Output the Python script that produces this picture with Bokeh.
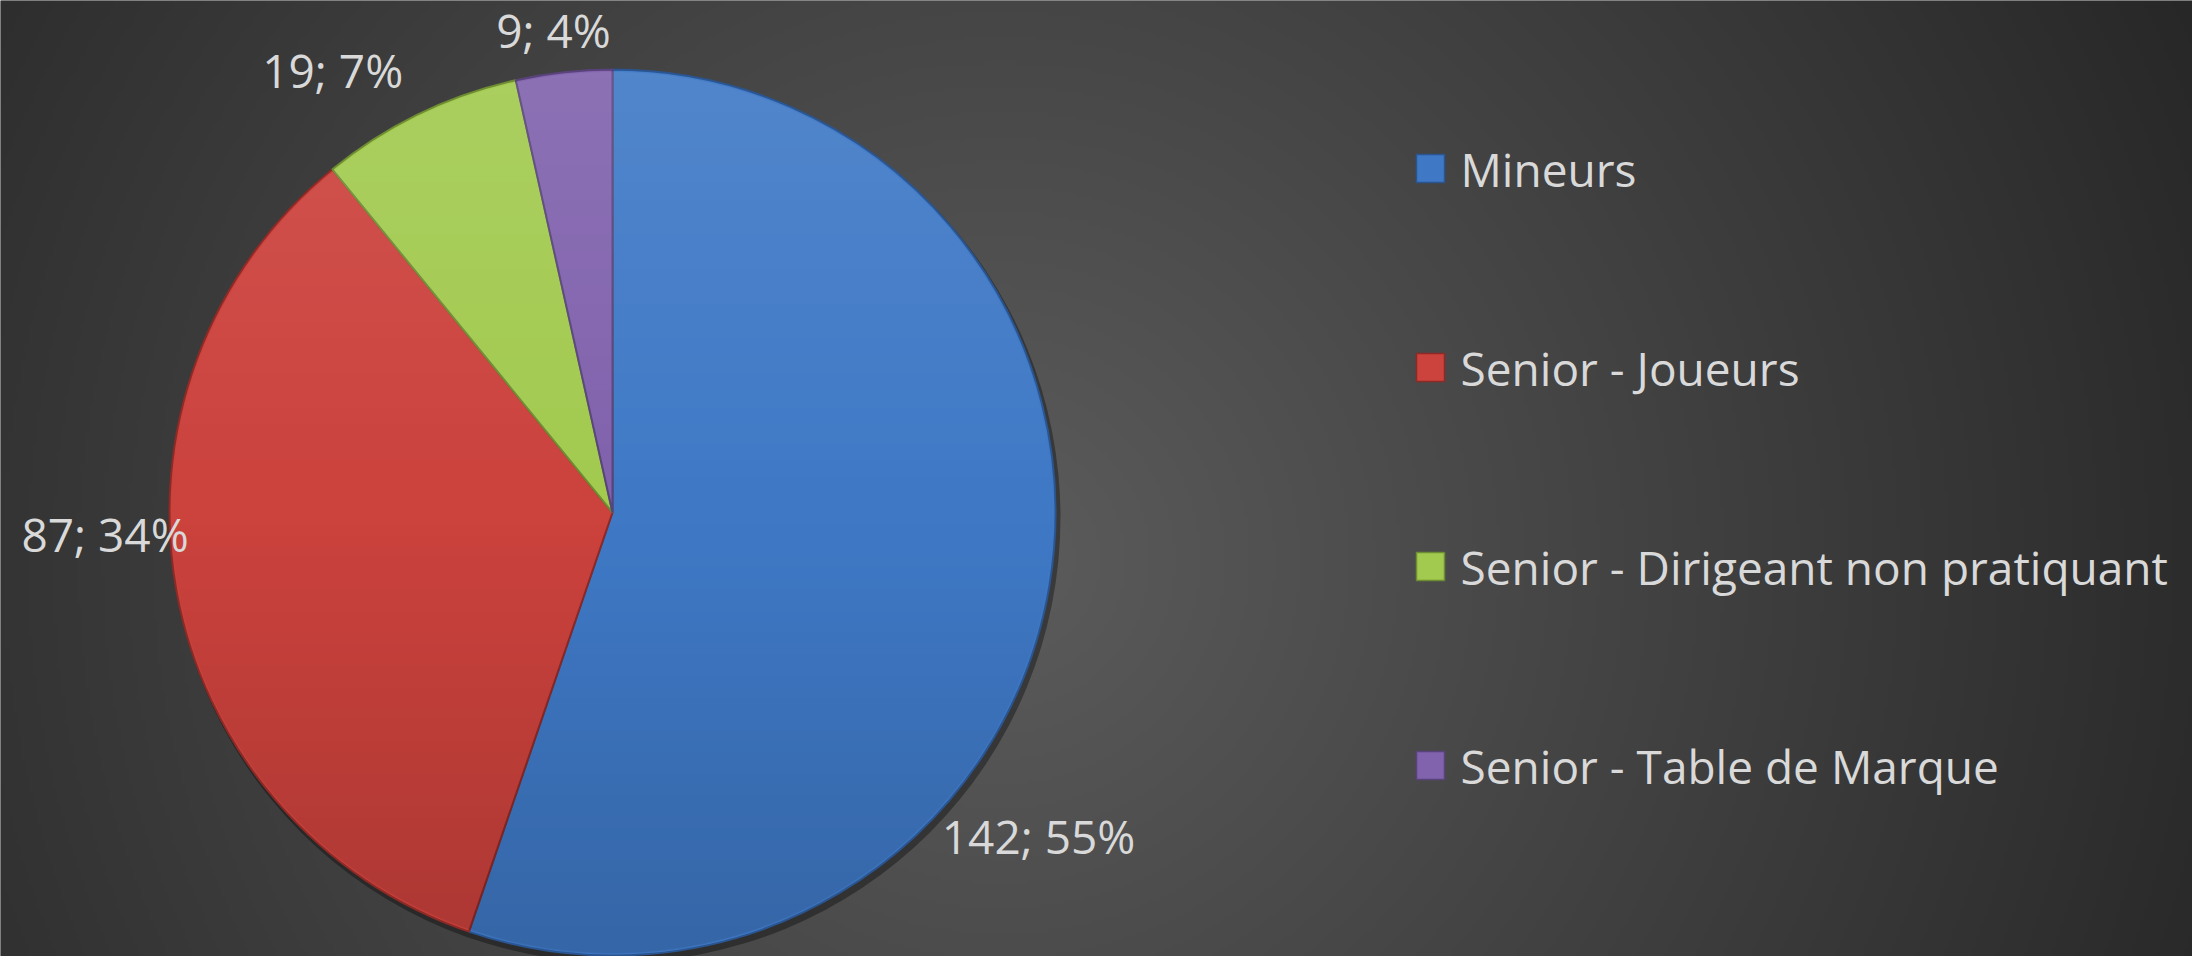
import numpy as np
from bokeh.plotting import figure
from bokeh.models import Range1d, ColumnDataSource
from bokeh.core.properties import value
from bokeh.embed import file_html
from bokeh.resources import INLINE

# ---- data ----
categories = ["Mineurs", "Senior - Joueurs",
              "Senior - Dirigeant non pratiquant", "Senior - Table de Marque"]
counts = [142, 87, 19, 9]

# ---- styles ----
colors = ["#3F79C6", "#CC423D", "#A2CA4F", "#8062AD"]
edge_colors = ["#2A5590", "#8E2A26", "#6E8C32", "#59437A"]
FONT = "Open Sans"
TEXT_COLOR = "#D9D9D9"

# ---- layout (reference pixel coordinates, y measured upward) ----
W, H = 2192, 956
cx, cy = 612, H - 512
R = 443
label_shift_deg = [-27.9, -7.5, 6.5, 0.7]
label_dist = [536, 508, 522, 484]
label_dy = 2
legend_marker_x = 1430
legend_text_x = 1460
legend_top = H - 168
legend_step = 199

p = figure(width=W, height=H,
           x_range=Range1d(0, W), y_range=Range1d(0, H),
           output_backend="svg", toolbar_location=None, min_border=0)
p.axis.visible = False
p.grid.visible = False
p.outline_line_color = None
p.background_fill_color = "#3a3a3a"
p.border_fill_color = "#3a3a3a"

# background radial gradient
nx, ny = 548, 239
xs = np.linspace(0, W, nx)
ys_up = np.linspace(0, H, ny)
X, Yu = np.meshgrid(xs, ys_up)
Yref = H - Yu
d = np.sqrt((X - 1000) ** 2 + (Yref - 560) ** 2)
c = np.clip(92 - 0.04 * d, 38, 92).astype(np.uint8)
img = np.empty((ny, nx), dtype=np.uint32)
view = img.view(dtype=np.uint8).reshape((ny, nx, 4))
view[..., 0] = c
view[..., 1] = c
view[..., 2] = c
view[..., 3] = 255
p.image_rgba(image=[img], x=0, y=0, dw=W, dh=H)

# pie
total = float(sum(counts))
frac = np.array(counts) / total
cum = np.concatenate([[0], np.cumsum(frac)])
start = np.pi / 2 - cum[1:] * 2 * np.pi
end = np.pi / 2 - cum[:-1] * 2 * np.pi
mid = (start + end) / 2

# soft shadow
p.circle(x=cx + 3, y=cy - 5, radius=R + 2, fill_color="black", fill_alpha=0.35, line_color=None)

src = ColumnDataSource(dict(start=start, end=end, color=colors, edge=edge_colors, cat=categories))
p.wedge(x=cx, y=cy, radius=R, start_angle="start", end_angle="end",
        fill_color="color", line_color="edge", line_width=2, source=src)

# shading overlay on the pie (light at top, darker at bottom)
n = 2 * R + 2
gx = np.arange(n) + 0.5 - n / 2
GX, GY = np.meshgrid(gx, gx)          # GY upward
dist = np.sqrt(GX ** 2 + GY ** 2)
mask = np.clip(R - 1.5 - dist, 0, 1)
t = (R - GY) / (2 * R)                # 0 at top, 1 at bottom
ov = np.empty((n, n), dtype=np.uint32)
ovv = ov.view(dtype=np.uint8).reshape((n, n, 4))
light = t < 0.5
rgb = np.where(light, 255, 0).astype(np.uint8)
alpha = np.where(light, 0.10 * (0.5 - t) * 2, 0.16 * (t - 0.5) * 2) * mask
ovv[..., 0] = rgb
ovv[..., 1] = rgb
ovv[..., 2] = rgb
ovv[..., 3] = (np.clip(alpha, 0, 1) * 255).astype(np.uint8)
p.image_rgba(image=[ov], x=cx - n / 2, y=cy - n / 2, dw=n, dh=n)

# data labels
labels = [f"{v}; {round(100 * v / total)}%" for v in counts]
la = mid + np.radians(label_shift_deg)
lx = cx + np.array(label_dist) * np.cos(la)
ly = cy + np.array(label_dist) * np.sin(la) + label_dy
p.text(x=lx, y=ly, text=labels, text_font=value(FONT), text_font_size="46px",
       text_color=TEXT_COLOR, text_align="center", text_baseline="middle")

# legend
ly_leg = [legend_top - i * legend_step for i in range(len(categories))]
p.scatter(x=[legend_marker_x] * len(categories), y=ly_leg, marker="square", size=28,
          fill_color=colors, line_color=edge_colors, line_width=1.5)
p.text(x=[legend_text_x] * len(categories), y=ly_leg, text=categories,
       text_font=value(FONT), text_font_size="46px", text_color=TEXT_COLOR,
       text_align="left", text_baseline="middle")

open("out.html", "w").write(file_html(p, INLINE))
